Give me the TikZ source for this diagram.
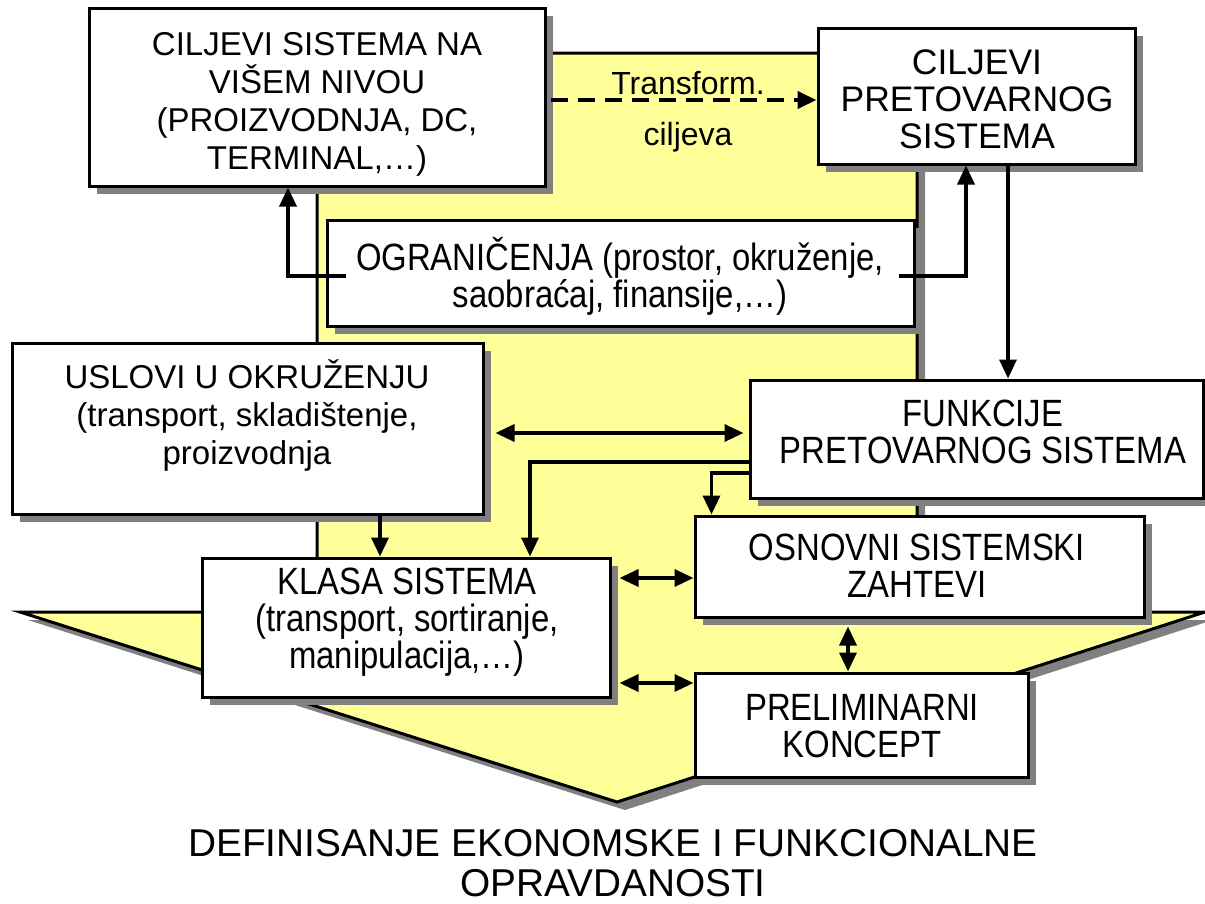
\documentclass[tikz,border=0pt]{standalone}
\usepackage{fontspec}
\setmainfont{Liberation Sans}
\newfontfamily\narrowf[FakeStretch=0.865]{Liberation Sans}
\usetikzlibrary{arrows.meta,shadows,calc}
\definecolor{yel}{HTML}{FFFF99}
\definecolor{shgray}{HTML}{808080}
\tikzset{
  shad/.style={drop shadow={shadow xshift=8pt,shadow yshift=-8pt,fill=shgray,opacity=1}},
  box/.style={draw,fill=white,line width=3pt,shad,inner sep=0pt},
  txt/.style={align=center,inner sep=0pt,font=\fontsize{33}{38}\selectfont},
  ntxt/.style={align=center,inner sep=0pt,font=\narrowf\fontsize{38}{37}\selectfont},
  conn/.style={line width=3.4pt,-{Triangle[length=19pt,width=17pt]}},
  dconn/.style={line width=3.4pt,{Triangle[length=19pt,width=17pt]}-{Triangle[length=19pt,width=17pt]}},
}
\begin{document}
\begin{tikzpicture}[x=1pt,y=-1pt]
\useasboundingbox (0,0) rectangle (1205,903);
% big yellow arrow
\filldraw[fill=yel,draw=black,line width=3pt,shad]
  (317,53) -- (917,53) -- (917,612) -- (1205,612) -- (617,802) -- (20,612) -- (317,612) -- cycle;
% boxes
\node[box,minimum width=456pt,minimum height=178pt] (b1) at (317,97) {};
\node[box,minimum width=317pt,minimum height=136pt] (b2) at (976.5,96) {};
\node[box,minimum width=587pt,minimum height=106pt] (b3) at (620.5,273) {};
\node[box,minimum width=471pt,minimum height=171pt] (b4) at (247.5,428.5) {};
\node[box,minimum width=453pt,minimum height=118pt] (b5) at (976.5,439) {};
\node[box,minimum width=408pt,minimum height=139pt] (b6) at (406,627.5) {};
\node[box,minimum width=449pt,minimum height=101pt] (b7) at (919.5,566.5) {};
\node[box,minimum width=333pt,minimum height=104pt] (b8) at (861.5,725) {};
% texts
\node[txt] (t1) at (317,104) {CILJEVI SISTEMA NA\\VIŠEM NIVOU\\(PROIZVODNJA, DC,\\TERMINAL,…)};
\node[txt,font=\fontsize{35.5}{37}\selectfont] (t2) at (977,99.5) {CILJEVI\\PRETOVARNOG\\SISTEMA};
\node[ntxt] (t3) at (620,276) {OGRANIČENJA (prostor, okruženje,\\saobraćaj, finansije,…)};
\node[txt] (t4) at (247,415) {USLOVI U OKRUŽENJU\\(transport, skladištenje,\\proizvodnja};
\node[ntxt] (t5) at (983,431.5) {FUNKCIJE\\PRETOVARNOG SISTEMA};
\node[ntxt] (t6) at (407,622.5) {KLASA SISTEMA\\(transport, sortiranje,\\manipulacija,…)};
\node[ntxt] (t7) at (917,565.5) {OSNOVNI SISTEMSKI\\ZAHTEVI};
\node[ntxt] (t8) at (862,726.5) {PRELIMINARNI\\KONCEPT};
\node[txt,font=\fontsize{32}{38}\selectfont] (tr) at (688,83) {Transform.};
\node[txt,font=\fontsize{32}{38}\selectfont] (cj) at (688,137) {ciljeva};
\node[txt,font=\fontsize{38.8}{40}\selectfont] (bot) at (613,863) {DEFINISANJE EKONOMSKE I FUNKCIONALNE\\OPRAVDANOSTI};
% connectors
\draw[line width=4.2pt,dash pattern=on 17pt off 10pt,-{Triangle[length=19pt,width=17pt]}]
  ([xshift=4pt,yshift=-3pt]b1.east) -- ([yshift=-4pt]b2.west);
\draw[conn] ([xshift=20pt,yshift=-3pt]b3.west) -| ([xshift=-29pt]b1.south);
\draw[conn] ([xshift=-17pt,yshift=-3pt]b3.east) -| ([xshift=-10.5pt]b2.south);
\draw[conn] ([xshift=31.5pt]b2.south) -- ([xshift=31.5pt]b2.south |- b5.north);
\draw[dconn] ([xshift=11pt,yshift=-4.5pt]b4.east) -- ([xshift=-5pt,yshift=6pt]b5.west);
\draw[conn] ([yshift=-23pt]b5.west) -| ([xshift=124pt]b6.north);
\draw[conn] ([yshift=-34pt]b5.west) -| ([xshift=18pt]b7.north west);
\draw[conn] ([xshift=132.5pt]b4.south) -- ([xshift=132.5pt]b4.south |- b6.north);
\draw[dconn] ([xshift=8pt]b6.east |- 0,578) -- (b7.west |- 0,578);
\draw[dconn] ([xshift=8pt]b6.east |- 0,683) -- (b8.west |- 0,683);
\draw[dconn] ([yshift=-8pt]b7.south west -| 848,0) -- (b8.north west -| 848,0);
\end{tikzpicture}
\end{document}
